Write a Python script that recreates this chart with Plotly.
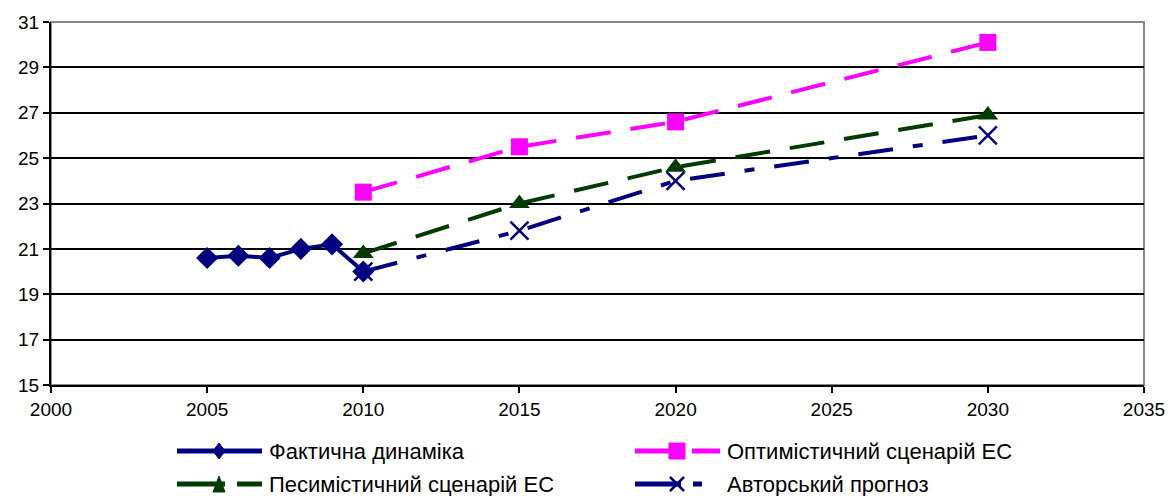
import plotly.graph_objects as go

# Actual dynamics
fact_years = [2005, 2006, 2007, 2008, 2009, 2010]
fact_vals = [20.6, 20.7, 20.6, 21.0, 21.2, 20.0]

# Scenario years
scen_years = [2010, 2015, 2020, 2030]
optimistic_vals = [23.5, 25.5, 26.6, 30.1]
pessimistic_vals = [20.8, 23.0, 24.6, 26.9]
author_vals = [20.0, 21.8, 24.0, 26.0]

x_ticks = [2000, 2005, 2010, 2015, 2020, 2025, 2030, 2035]
y_ticks = [15, 17, 19, 21, 23, 25, 27, 29, 31]

NAVY = "#000080"
PINK = "#FF00FF"
GREEN = "#003C00"
FONT = "Liberation Sans, Arial, sans-serif"

W, H = 1168, 496
ML, MR, MT, MB = 51, 24, 22, 111
PW, PH = W - ML - MR, H - MT - MB

series = [
    dict(name="Фактична динаміка", x=fact_years, y=fact_vals, color=NAVY,
         dash="solid", symbol="diamond", size=17, leg_dash="solid"),
    dict(name="Оптимістичний сценарій ЕС", x=scen_years, y=optimistic_vals, color=PINK,
         dash="35px,20px", symbol="square", size=17, leg_dash="48px,9px,30px"),
    dict(name="Песимістичний сценарій ЕС", x=scen_years, y=pessimistic_vals, color=GREEN,
         dash="35px,20px", symbol="triangle-up", size=18, leg_dash="48px,12px,30px"),
    dict(name="Авторський прогноз", x=scen_years, y=author_vals, color=NAVY,
         dash="35px,20px,10px,20px", symbol="x-thin-open", size=18, leg_dash="46px,12px,9px,30px"),
]

fig = go.Figure()
for s in series:
    marker = dict(symbol=s["symbol"], size=s["size"], color=s["color"])
    if s["symbol"].startswith("x-thin"):
        marker["line"] = dict(color=s["color"], width=2.5)
    fig.add_trace(go.Scatter(
        x=s["x"], y=s["y"], name=s["name"], mode="lines+markers",
        line=dict(color=s["color"], width=4, dash=s["dash"]),
        marker=marker, showlegend=False, cliponaxis=False,
    ))

# Plot frame: grey top/right borders
fig.add_shape(type="rect", xref="paper", yref="paper", x0=0, y0=0, x1=1, y1=1,
              line=dict(color="#888888", width=2), layer="below")


def px_x(p):
    return (p - ML) / PW


def px_y(p):
    return (H - MB - p) / PH


# Legend glyph paths in pixels around the anchor point
glyphs = {
    "diamond": "M0,8 L6,0 L0,-8 L-6,0 Z",
    "square": "M-8,-8 L8,-8 L8,8 L-8,8 Z",
    "triangle-up": "M-6,-8 L6,-8 L0,8 Z",
    "x-thin-open": "M-7,-7 L7,7 M-7,7 L7,-7",
}

# Two-column legend below the axis
slots = [(177, 451), (635, 451), (177, 484), (635, 484)]
for s, (lx, ly) in zip(series, slots):
    fig.add_shape(type="line", xref="paper", yref="paper",
                  x0=px_x(lx), x1=px_x(lx + 85), y0=px_y(ly), y1=px_y(ly),
                  line=dict(color=s["color"], width=5, dash=s["leg_dash"]))
    sym = s["symbol"]
    open_sym = sym.startswith("x-thin")
    fig.add_shape(type="path", xref="paper", yref="paper",
                  xsizemode="pixel", ysizemode="pixel",
                  xanchor=px_x(lx + 42), yanchor=px_y(ly),
                  path=glyphs[sym],
                  fillcolor=None if open_sym else s["color"],
                  line=dict(color=s["color"], width=2.5 if open_sym else 1))
    fig.add_annotation(xref="paper", yref="paper", x=px_x(lx + 90), y=px_y(ly),
                       xanchor="left", yanchor="middle", showarrow=False,
                       text=s["name"], font=dict(size=22, family=FONT, color="black"))

fig.update_layout(
    width=W, height=H,
    margin=dict(l=ML, r=MR, t=MT, b=MB, autoexpand=False),
    paper_bgcolor="white", plot_bgcolor="white",
    font=dict(family=FONT, size=19, color="black"),
    showlegend=False,
    xaxis=dict(
        range=[2000, 2035], tickvals=x_ticks, ticktext=[str(v) for v in x_ticks],
        showgrid=False, zeroline=False, automargin=False,
        showline=True, linecolor="black", linewidth=2,
        ticks="outside", ticklen=6, tickwidth=2, tickcolor="black",
        tickfont=dict(size=19),
    ),
    yaxis=dict(
        range=[15, 31], tickvals=y_ticks, automargin=False,
        showgrid=True, gridcolor="black", gridwidth=2, zeroline=False,
        showline=True, linecolor="black", linewidth=2,
        ticks="outside", ticklen=6, tickwidth=2, tickcolor="black",
        tickfont=dict(size=19),
    ),
)

fig.write_html("out.html")
